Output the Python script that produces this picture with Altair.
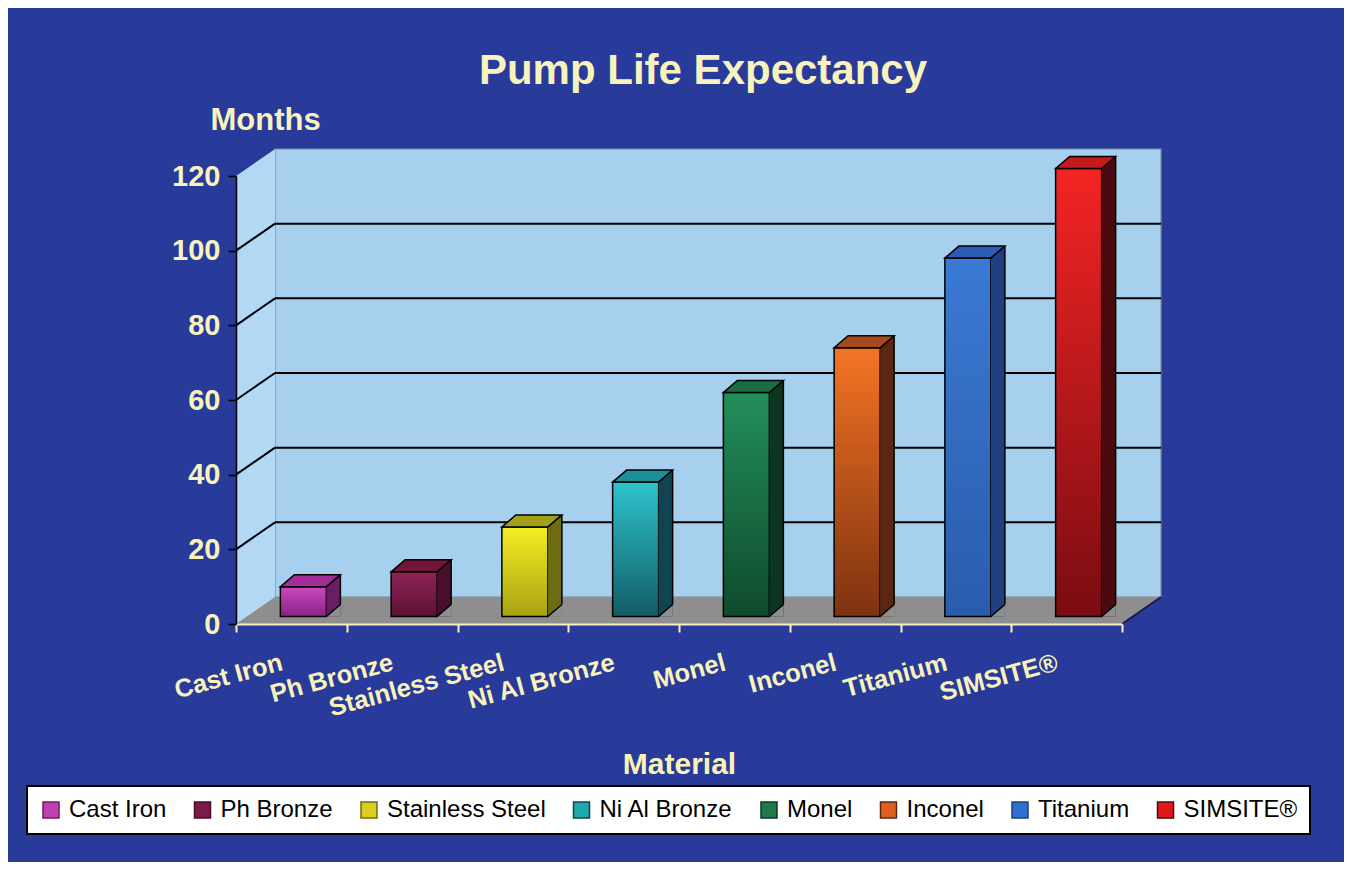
import altair as alt
import pandas as pd

# ---------------- data ----------------
MATERIALS = ["Cast Iron", "Ph Bronze", "Stainless Steel", "Ni Al Bronze",
             "Monel", "Inconel", "Titanium", "SIMSITE®"]
MONTHS = [8, 12, 24, 36, 60, 72, 96, 120]
Y_TICKS = [0, 20, 40, 60, 80, 100, 120]

# ---------------- styles ----------------
LEGEND_COLORS = ["#c040b0", "#7a1a48", "#d8d020", "#20a8b0", "#1e7a48", "#e06020", "#3070d0", "#e01818"]
FRONT_TOP = ["#cc48c0", "#8e2458", "#f4ee24", "#2ec4cc", "#238e5a", "#f47424", "#3a7ad4", "#f42424"]
FRONT_BOTTOM = ["#8a2484", "#5c1234", "#a8a212", "#125c66", "#0f4a2e", "#7e3210", "#2a5cac", "#7a0c12"]
SIDE = ["#6c1c66", "#4a0e2a", "#6e6c12", "#0f4450", "#0d3622", "#5a2810", "#1f407e", "#4c0a10"]
TOP = ["#a22c9a", "#701438", "#a4a016", "#1c9098", "#1b6c42", "#a84a1c", "#2c5cb4", "#c41a1a"]

BG = "#283a9a"
CREAM = "#f8f2bc"
WALL = "#a6d0ee"
SIDE_WALL = "#b2d8f4"
FLOOR = "#8e8e8e"
FONT = "Liberation Sans"

W, H = 886, 448
DX, DY = 39, -27            # depth of the chart box
BAR_W = 46
BAR_DX, BAR_DY = 12, -7.5    # front face shift
BD_X, BD_Y = 14, -12         # bar depth

df = pd.DataFrame({"Material": MATERIALS, "Months": MONTHS})
ticks_df = pd.DataFrame({"tick": Y_TICKS})
grid_df = ticks_df[(ticks_df.tick > 0) & (ticks_df.tick < 120)]
one = alt.Data(values=[{"k": 0}])

x_scale = alt.Scale(domain=MATERIALS, paddingInner=0, paddingOuter=0)
y_scale = alt.Scale(domain=[0, 120], nice=False)

X_AXIS = alt.Axis(
    title="Material", titleFont=FONT, titleFontSize=30, titleFontWeight="bold",
    titleColor=CREAM, titleY=149, titleBaseline="alphabetic",
    labelAngle=345, labelAlign="right", labelBaseline="top", labelFont=FONT,
    labelFontSize=25.5, labelFontWeight="bold", labelColor=CREAM, labelPadding=18,
    labelOffset=-13, labelLimit=400, labelOverlap=False, tickBand="extent",
    tickSize=8, tickColor=CREAM, tickWidth=2,
    domainColor=CREAM, domainWidth=2, grid=False, zindex=1)
Y_AXIS = alt.Axis(
    values=Y_TICKS, title="Months", titleAngle=0, titleAlign="left",
    titleBaseline="alphabetic", titleX=-26, titleY=-47, titleFont=FONT,
    titleFontSize=31, titleFontWeight="bold", titleColor=CREAM,
    labelFont=FONT, labelFontSize=29, labelFontWeight="bold", labelColor=CREAM,
    labelPadding=8, tickSize=8, tickColor="black", tickWidth=1.5,
    domainColor="black", domainWidth=1.5, grid=False, zindex=1)

X = alt.X("Material:N", scale=x_scale, sort=MATERIALS, axis=X_AXIS)
Y = alt.Y("Months:Q", scale=y_scale, axis=Y_AXIS)


def ydat(v):
    return alt.YDatum(v, scale=y_scale, axis=Y_AXIS)


def glyph(path):
    return dict(shape=path, size=4, opacity=1)


layers = []

# back wall
layers.append(alt.Chart(one).mark_rect(
    fill=WALL, stroke="#7d8b99", strokeWidth=1.2, yOffset=DY, y2Offset=DY).encode(
    x=alt.value(DX), x2=alt.value(W + DX), y=ydat(120), y2=alt.datum(0)))
# side wall
layers.append(alt.Chart(one).mark_rect(fill=SIDE_WALL, yOffset=DY).encode(
    x=alt.value(0), x2=alt.value(DX), y=ydat(120), y2=alt.datum(0)))
layers.append(alt.Chart(one).mark_point(
    filled=True, fill=BG, strokeWidth=0, **glyph(f"M0,0L0,{DY}L{DX},{DY}Z")).encode(
    x=alt.value(0), y=ydat(120)))
# floor
layers.append(alt.Chart(one).mark_rect(fill=FLOOR, yOffset=DY).encode(
    x=alt.value(DX), x2=alt.value(W), y=ydat(0), y2=alt.datum(0)))
layers.append(alt.Chart(one).mark_point(
    filled=True, fill=FLOOR, strokeWidth=0, **glyph(f"M0,0L{DX},0L{DX},{DY}Z")).encode(
    x=alt.value(0), y=ydat(0)))
layers.append(alt.Chart(one).mark_point(
    filled=True, fill=FLOOR, strokeWidth=0, **glyph(f"M0,0L{DX},{DY}L0,{DY}Z")).encode(
    x=alt.value(W), y=ydat(0)))
layers.append(alt.Chart(one).mark_point(
    filled=False, stroke="#1a1a40", strokeWidth=2, **glyph(f"M0,0L{DX},{DY}")).encode(
    x=alt.value(W), y=ydat(0)))
# grid lines on back wall and side wall
layers.append(alt.Chart(grid_df).mark_rule(color="black", strokeWidth=2, yOffset=DY).encode(
    y=alt.Y("tick:Q", scale=y_scale, axis=Y_AXIS), x=alt.value(DX), x2=alt.value(W + DX)))
layers.append(alt.Chart(grid_df).mark_rule(color="black", strokeWidth=2, y2Offset=DY).encode(
    y=alt.Y("tick:Q", scale=y_scale, axis=Y_AXIS), y2="tick:Q",
    x=alt.value(0), x2=alt.value(DX)))

base = alt.Chart(df)
bar_geom = dict(width=BAR_W, xOffset=BAR_DX, yOffset=BAR_DY, y2Offset=BAR_DY)

# front faces (legend)
layers.append(base.mark_bar(**bar_geom).encode(
    x=X, y=Y, y2=alt.datum(0),
    color=alt.Color("Material:N", sort=MATERIALS,
                    scale=alt.Scale(domain=MATERIALS, range=LEGEND_COLORS),
                    legend=alt.Legend(
                        title=None, orient="none", legendX=-209, legendY=610,
                        direction="horizontal", columns=8, symbolType="square",
                        symbolSize=256, symbolStrokeColor="black", symbolStrokeWidth=1.5,
                        labelFont=FONT, labelFontSize=24, labelColor="black",
                        fillColor="white", strokeColor="black", padding=12,
                        columnPadding=23.5, labelOffset=6, symbolOpacity=1))))
# gradient front faces
for m, c0, c1 in zip(MATERIALS, FRONT_TOP, FRONT_BOTTOM):
    grad = alt.Gradient(gradient="linear", x1=0, x2=0, y1=0, y2=1,
                        stops=[alt.GradientStop(color=c0, offset=0),
                               alt.GradientStop(color=c1, offset=1)])
    layers.append(base.transform_filter(alt.datum.Material == m).mark_bar(
        fill=grad, stroke="black", strokeWidth=1.5, **bar_geom).encode(
        x=X, y=Y, y2=alt.datum(0)))
# side faces
layers.append(base.mark_rule(
    strokeWidth=BD_X, strokeCap="butt", xOffset=BAR_DX + BAR_W / 2 + BD_X / 2,
    yOffset=BAR_DY + BD_Y, y2Offset=BAR_DY).encode(
    x=X, y=Y, y2=alt.datum(0),
    stroke=alt.Stroke("Material:N", scale=alt.Scale(domain=MATERIALS, range=SIDE), legend=None)))
layers.append(base.mark_point(
    filled=True, fill=FLOOR, strokeWidth=0, xOffset=BAR_DX + BAR_W / 2, yOffset=BAR_DY,
    **glyph(f"M0,0L{BD_X},0L{BD_X},{BD_Y}Z")).encode(x=X, y=ydat(0)))
layers.append(base.mark_point(
    filled=False, stroke="black", strokeWidth=1.5, xOffset=BAR_DX + BAR_W / 2, yOffset=BAR_DY,
    **glyph(f"M0,0L{BD_X},{BD_Y}")).encode(x=X, y=ydat(0)))
layers.append(base.mark_rule(
    color="black", strokeWidth=1.5, xOffset=BAR_DX + BAR_W / 2 + BD_X,
    yOffset=BAR_DY + BD_Y, y2Offset=BAR_DY + BD_Y).encode(x=X, y=Y, y2=alt.datum(0)))
# top faces
hw = BAR_W / 2
layers.append(base.mark_point(
    filled=True, stroke="black", strokeWidth=1.5, xOffset=BAR_DX, yOffset=BAR_DY,
    **glyph(f"M{-hw},0L{hw},0L{hw + BD_X},{BD_Y}L{-hw + BD_X},{BD_Y}Z")).encode(
    x=X, y=Y,
    fill=alt.Fill("Material:N", scale=alt.Scale(domain=MATERIALS, range=TOP), legend=None)))

chart = alt.layer(*layers).properties(
    width=W, height=H,
    padding={"left": 228, "top": 168, "right": 222, "bottom": 238},
    autosize=alt.AutoSizeParams(type="none"),
    background=BG,
    title=alt.TitleParams("Pump Life Expectancy", font=FONT, fontSize=42,
                          fontWeight="bold", color=CREAM, anchor="middle",
                          offset=11, dx=24),
).configure_view(stroke=None)

try:
    c2 = chart.configure_legend(strokeWidth=2)
    c2.to_dict()
    chart = c2
except Exception:
    pass

chart.save("out.html", embed_options={"renderer": "svg", "actions": False})
